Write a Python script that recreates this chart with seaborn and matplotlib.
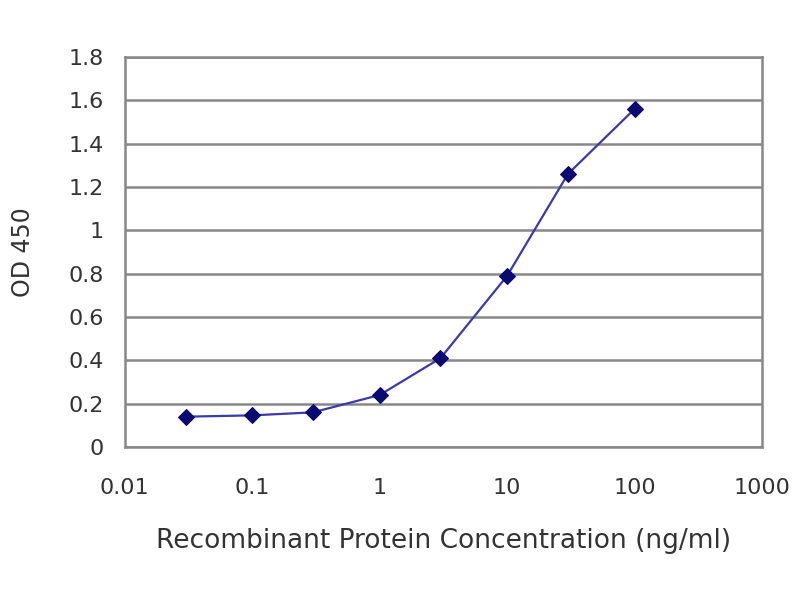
import pandas as pd
import matplotlib
matplotlib.use("Agg")
import matplotlib.pyplot as plt
import seaborn as sns

# values
concentration = [0.03, 0.1, 0.3, 1, 3, 10, 30, 100]
od450 = [0.14, 0.146, 0.16, 0.24, 0.41, 0.79, 1.26, 1.56]
y_ticks = [0, 0.2, 0.4, 0.6, 0.8, 1, 1.2, 1.4, 1.6, 1.8]
y_tick_labels = ["0", "0.2", "0.4", "0.6", "0.8", "1", "1.2", "1.4", "1.6", "1.8"]
x_ticks = [0.01, 0.1, 1, 10, 100, 1000]
x_tick_labels = ["0.01", "0.1", "1", "10", "100", "1000"]

df = pd.DataFrame({"conc": concentration, "od": od450})

sns.set_style("white")
plt.rcParams["font.family"] = ["DejaVu Sans"]

fig = plt.figure(figsize=(8, 6), dpi=100)
ax = fig.add_axes([0.156, 0.255, 0.7965, 0.65])

sns.lineplot(data=df, x="conc", y="od", ax=ax, color="#3a3aa8", linewidth=1.6,
             marker="D", markersize=8, markerfacecolor="#0a0a70",
             markeredgecolor="#0a0a70", zorder=3)

ax.set_xscale("log")
ax.set_xlim(0.01, 1000)
ax.set_ylim(0, 1.8)
ax.set_xticks(x_ticks)
ax.set_xticklabels(x_tick_labels)
ax.minorticks_off()
ax.set_yticks(y_ticks)
ax.set_yticklabels(y_tick_labels)

ax.yaxis.grid(True, color="#888888", linewidth=1.8)
ax.set_axisbelow(True)
for side in ["left", "right", "top", "bottom"]:
    ax.spines[side].set_visible(True)
    ax.spines[side].set_color("#888888")
    ax.spines[side].set_linewidth(1.8)

ax.tick_params(axis="x", direction="in", length=4, width=1, color="#888888",
               labelsize=16, labelcolor="#333333", pad=22)
ax.tick_params(axis="y", length=0, labelsize=16, labelcolor="#333333", pad=15)

ax.set_xlabel("Recombinant Protein Concentration (ng/ml)", fontsize=19,
              color="#333333", labelpad=22)
ax.set_ylabel("OD 450", fontsize=17, color="#333333", labelpad=24)

fig.savefig("out.png", dpi=100)
